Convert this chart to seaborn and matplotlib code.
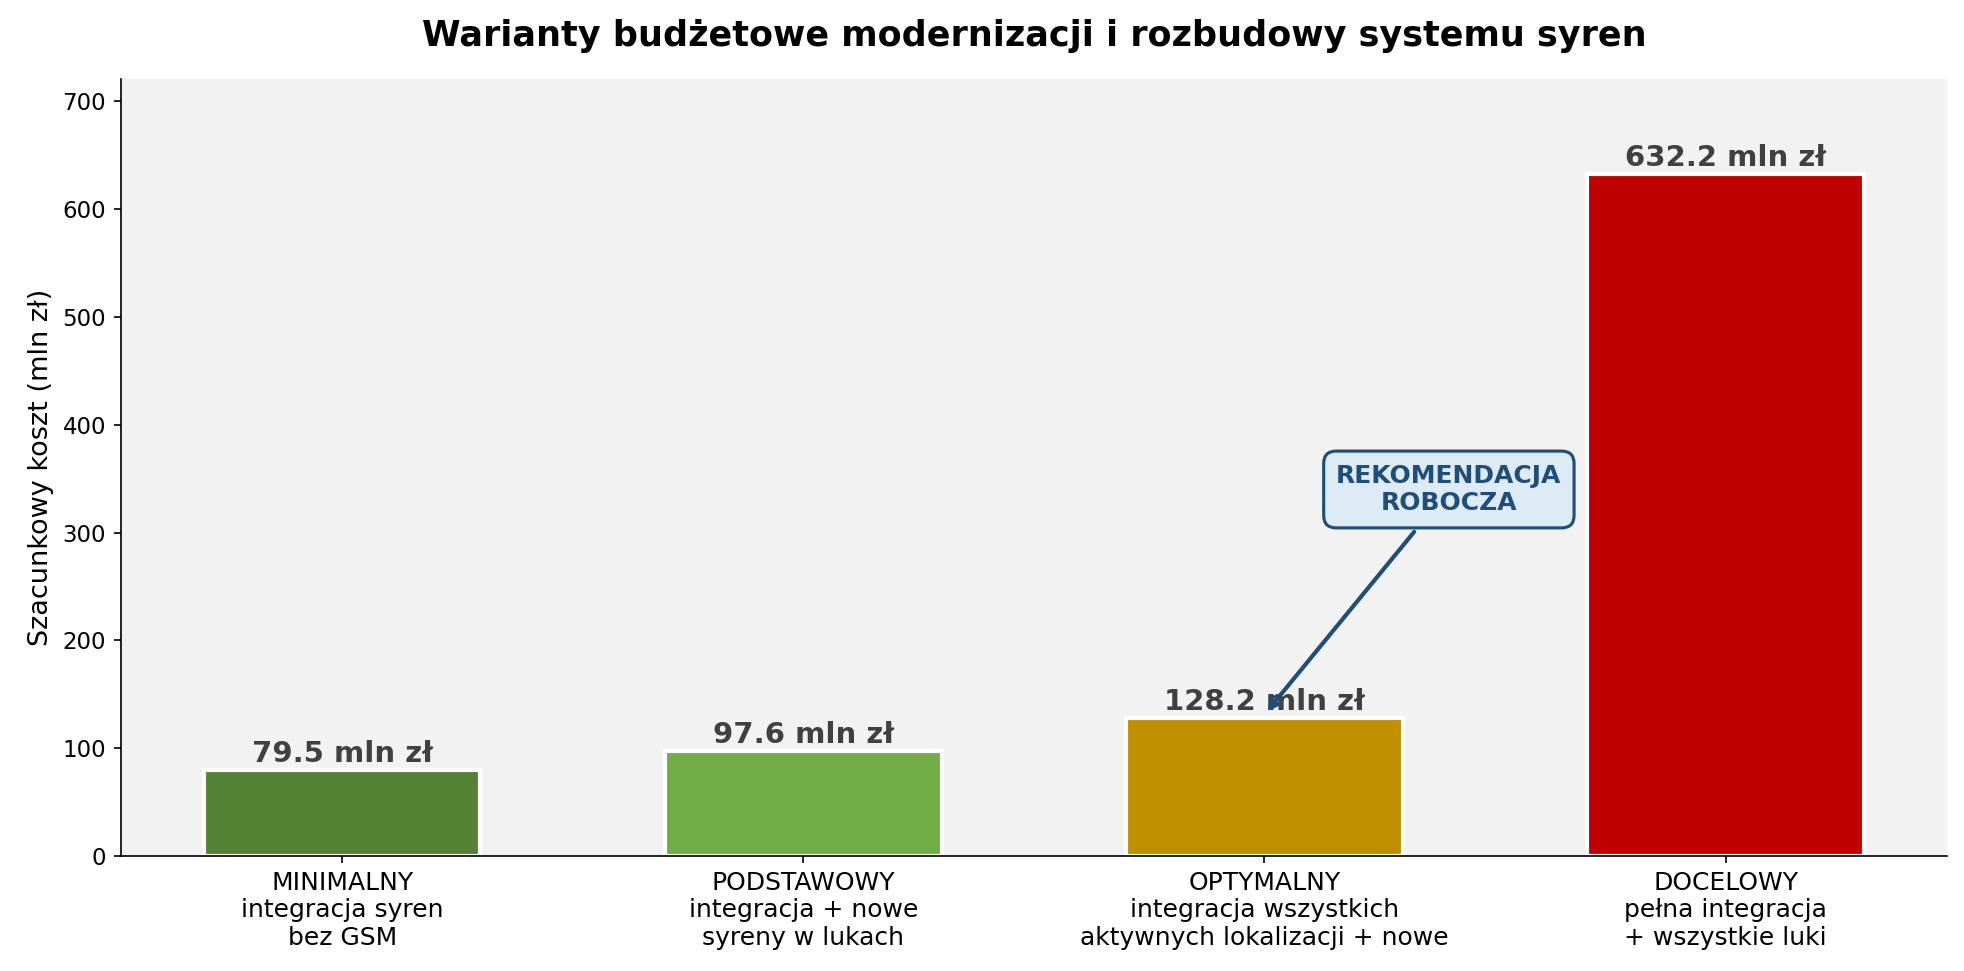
import matplotlib.pyplot as plt
import pandas as pd
import seaborn as sns

variants = [
    "MINIMALNY\nintegracja syren\nbez GSM",
    "PODSTAWOWY\nintegracja + nowe\nsyreny w lukach",
    "OPTYMALNY\nintegracja wszystkich\naktywnych lokalizacji + nowe",
    "DOCELOWY\npełna integracja\n+ wszystkie luki",
]
costs = [79.5, 97.6, 128.2, 632.2]
colors = ["#548235", "#70AD47", "#BF8F00", "#C00000"]
recommended = 2

sns.set_style("ticks", {
    "axes.facecolor": "#F2F2F2",
    "axes.edgecolor": "black",
    "text.color": "black",
    "axes.labelcolor": "black",
    "xtick.color": "black",
    "ytick.color": "black",
})
plt.rcParams["font.family"] = ["DejaVu Sans"]

df = pd.DataFrame({"wariant": variants, "koszt": costs})

fig, ax = plt.subplots(figsize=(1964 / 150, 971 / 150), dpi=150)
fig.subplots_adjust(left=0.0615, right=0.9913, bottom=0.1184, top=0.9186)

sns.barplot(data=df, x="wariant", y="koszt", hue="wariant", palette=colors,
            width=0.6, edgecolor="white", linewidth=2, saturation=1,
            legend=False, ax=ax)

for i, v in enumerate(costs):
    ax.text(i, v + 2, f"{v:.1f} mln zł", ha="center", va="bottom",
            fontsize=14, fontweight="bold", color="#404040")

ax.annotate("REKOMENDACJA\nROBOCZA", xy=(recommended, costs[recommended] + 3),
            xytext=(recommended + 0.4, 340), ha="center", va="center",
            fontsize=12, fontweight="bold", color="#1F4E79",
            bbox=dict(boxstyle="round,pad=0.5", fc="#DDEBF7", ec="#1F4E79", lw=1.5),
            arrowprops=dict(arrowstyle="->", color="#1F4E79", lw=2))

ax.set_xlim(-0.48, len(costs) - 0.52)
ax.set_ylim(0, max(costs) * 1.14)
ax.set_yticks(range(0, 701, 100))
ax.set_xlabel("")
ax.set_ylabel("Szacunkowy koszt (mln zł)", fontsize=13)
ax.tick_params(axis="x", labelsize=12)
ax.tick_params(axis="y", labelsize=11)
ax.set_title("Warianty budżetowe modernizacji i rozbudowy systemu syren",
             fontsize=16.8, fontweight="bold", pad=16)
sns.despine(ax=ax)

fig.savefig("out.png", dpi=150)
